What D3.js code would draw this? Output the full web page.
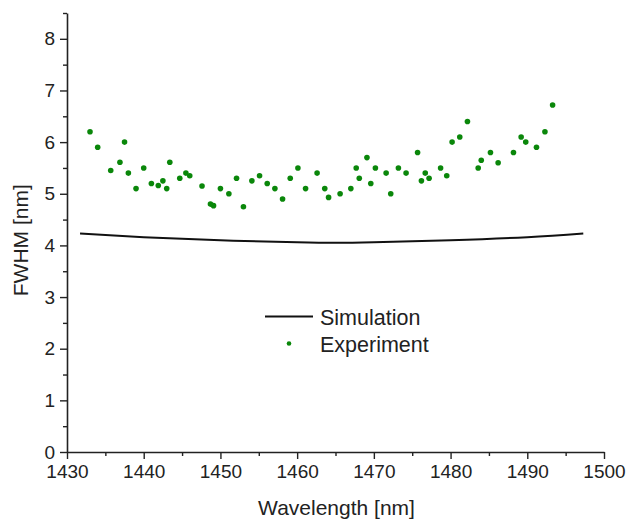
<!DOCTYPE html>
<html>
<head>
<meta charset="utf-8">
<script src="https://cdn.jsdelivr.net/npm/d3@7"></script>
<style>
  body { margin: 0; background: #fff; }
  text { font-family: "Liberation Sans", Arial, sans-serif; fill: #222; }
</style>
</head>
<body>
<div id="my_dataviz"></div>
<script>
// experiment points (wavelength nm, FWHM nm)
var expWavelength = [1433.0, 1434.0, 1435.7, 1436.9, 1437.5, 1438.0, 1439.0, 1440.0, 1441.0, 1441.9,
    1442.5, 1443.0, 1443.4, 1444.7, 1445.5, 1446.0, 1447.6, 1448.7, 1449.1, 1450.0,
    1451.1, 1452.1, 1453.0, 1454.1, 1455.1, 1456.1, 1457.1, 1458.1, 1459.1, 1460.1,
    1461.1, 1462.6, 1463.6, 1464.1, 1465.6, 1467.0, 1467.7, 1468.1, 1469.1, 1469.6,
    1470.2, 1471.6, 1472.2, 1473.2, 1474.2, 1475.7, 1476.2, 1476.7, 1477.2, 1478.7,
    1479.5, 1480.2, 1481.2, 1482.2, 1483.6, 1484.0, 1485.2, 1486.2, 1488.2, 1489.2,
    1489.8, 1491.2, 1492.3, 1493.3];
var expFwhm = [6.20, 5.90, 5.45, 5.61, 6.00, 5.40, 5.10, 5.50, 5.20, 5.16,
    5.25, 5.10, 5.61, 5.30, 5.40, 5.35, 5.15, 4.80, 4.77, 5.10,
    5.00, 5.30, 4.75, 5.25, 5.35, 5.20, 5.10, 4.90, 5.30, 5.50,
    5.10, 5.40, 5.10, 4.93, 5.00, 5.10, 5.50, 5.30, 5.70, 5.20,
    5.50, 5.40, 5.00, 5.50, 5.40, 5.80, 5.25, 5.40, 5.30, 5.50,
    5.35, 6.00, 6.10, 6.40, 5.50, 5.65, 5.80, 5.60, 5.80, 6.10,
    6.00, 5.90, 6.20, 6.72];

// simulation curve
var simWavelength = [1431.7, 1440, 1450, 1460, 1465, 1470, 1480, 1490, 1497.3];
var simFwhm = [4.23, 4.16, 4.10, 4.06, 4.05, 4.06, 4.10, 4.16, 4.23];

var xTicks = [1430, 1440, 1450, 1460, 1470, 1480, 1490, 1500];
var yTicks = [0, 1, 2, 3, 4, 5, 6, 7, 8];

var margin = { top: 13, right: 24, bottom: 68, left: 67 },
    width = 628 - margin.left - margin.right,
    height = 520 - margin.top - margin.bottom;

var svg = d3.select("#my_dataviz")
    .append("svg")
    .attr("width", 628)
    .attr("height", 520)
    .append("g")
    .attr("transform", "translate(" + margin.left + "," + margin.top + ")");

var x = d3.scaleLinear().domain([1430, 1500]).range([0, 537]);
var y = d3.scaleLinear().domain([0, 8.5]).range([439, 0]);

// minor ticks
svg.append("g")
    .attr("transform", "translate(0,439)")
    .call(d3.axisBottom(x).tickValues(d3.range(1435, 1500, 10)).tickSize(4).tickFormat(""))
    .call(g => g.select(".domain").remove());
svg.append("g")
    .call(d3.axisLeft(y).tickValues(d3.range(0.5, 8.6, 1)).tickSize(4).tickFormat(""))
    .call(g => g.select(".domain").remove());

// X axis
var xAxis = svg.append("g")
    .attr("transform", "translate(0,439)")
    .call(d3.axisBottom(x).tickValues(xTicks).tickSize(7).tickSizeOuter(0).tickPadding(6).tickFormat(d3.format("d")));
xAxis.selectAll("text").style("font-size", "19px");

// Y axis
var yAxis = svg.append("g")
    .call(d3.axisLeft(y).tickValues(yTicks).tickSize(7).tickSizeOuter(0).tickPadding(5));
yAxis.selectAll("text").style("font-size", "19px");

svg.selectAll(".domain").attr("stroke", "#222").attr("stroke-width", 1.6);
svg.selectAll(".tick line").attr("stroke", "#222").attr("stroke-width", 1.4);

// axis labels
svg.append("text")
    .attr("x", width / 2 + 1)
    .attr("y", 439 + 63)
    .style("text-anchor", "middle")
    .style("font-size", "21px")
    .text("Wavelength [nm]");

svg.append("text")
    .attr("transform", "rotate(-90)")
    .attr("x", -(y(4.1)))
    .attr("y", -39)
    .style("text-anchor", "middle")
    .style("font-size", "21px")
    .text("FWHM [nm]");

// simulation line
var simData = simWavelength.map(function (d, i) { return [d, simFwhm[i]]; });
svg.append("path")
    .datum(simData)
    .attr("fill", "none")
    .attr("stroke", "#111")
    .attr("stroke-width", 2)
    .attr("d", d3.line()
        .x(function (d) { return x(d[0]); })
        .y(function (d) { return y(d[1]); })
        .curve(d3.curveNatural));

// experiment dots
var expData = expWavelength.map(function (d, i) { return { w: d, v: expFwhm[i] }; });
svg.selectAll("circle.exp")
    .data(expData)
    .enter()
    .append("circle")
    .attr("class", "exp")
    .attr("cx", function (d) { return x(d.w); })
    .attr("cy", function (d) { return y(d.v); })
    .attr("r", 2.8)
    .attr("fill", "#0a870a");

// legend
var legend = svg.append("g").attr("transform", "translate(198,303.5)");
legend.append("line")
    .attr("x1", 0).attr("x2", 48)
    .attr("y1", 0).attr("y2", 0)
    .attr("stroke", "#111").attr("stroke-width", 2);
legend.append("text")
    .attr("x", 55).attr("y", 8)
    .style("font-size", "21.5px")
    .text("Simulation");
legend.append("circle")
    .attr("cx", 24).attr("cy", 27)
    .attr("r", 2.3)
    .attr("fill", "#0a870a");
legend.append("text")
    .attr("x", 55).attr("y", 35)
    .style("font-size", "21.5px")
    .text("Experiment");
</script>
</body>
</html>
